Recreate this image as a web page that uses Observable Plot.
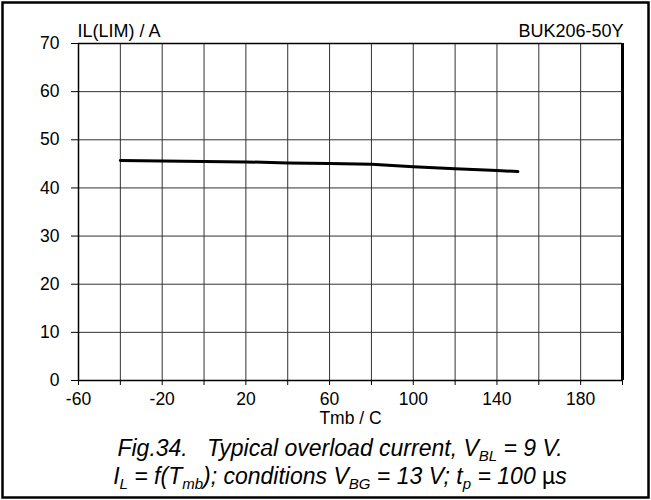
<!DOCTYPE html>
<html>
<head>
<meta charset="utf-8">
<script src="https://cdn.jsdelivr.net/npm/d3@7"></script>
<script src="https://cdn.jsdelivr.net/npm/@observablehq/plot@0.6"></script>
<style>
  html, body { margin: 0; padding: 0; background: #fff; }
  #chart { position: relative; width: 651px; height: 500px; }
  svg { font-family: "Liberation Sans", Arial, sans-serif; }
</style>
</head>
<body>
<div id="chart"></div>
<script>
// Data
const tmb = [-40, -20, 0, 20, 40, 60, 80, 100, 120, 140, 150];
const ilim = [45.7, 45.6, 45.5, 45.4, 45.2, 45.1, 44.9, 44.4, 44.0, 43.6, 43.4];
const xGrid = [-60, -40, -20, 0, 20, 40, 60, 80, 100, 120, 140, 160, 180, 200];
const xLabels = [-60, -20, 20, 60, 100, 140, 180];
const yTicks = [0, 10, 20, 30, 40, 50, 60, 70];
const yLabel = "IL(LIM) / A";
const xLabel = "Tmb / C";
const partLabel = "BUK206-50Y";

const data = tmb.map((t, i) => ({t, v: ilim[i]}));
const FS = 17.5;
const TS = 18;

const plot = Plot.plot({
  width: 651,
  height: 500,
  marginLeft: 78,
  marginRight: 29,
  marginTop: 43,
  marginBottom: 120,
  style: {fontFamily: "Liberation Sans, Arial, sans-serif", fontSize: FS + "px", color: "#000", background: "#fff"},
  x: {domain: [-60, 200]},
  y: {domain: [0, 70]},
  marks: [
    Plot.ruleX(xGrid, {stroke: "#333", strokeWidth: 1}),
    Plot.ruleY(yTicks, {stroke: "#333", strokeWidth: 1}),
    Plot.ruleY([0, 70], {stroke: "#000", strokeWidth: 1.5}),
    Plot.ruleX([-60], {stroke: "#000", strokeWidth: 1.5}),
    Plot.ruleX([200], {stroke: "#000", strokeWidth: 3}),
    Plot.axisX(xGrid, {tickSize: 5, tickFormat: () => "", stroke: "#000", label: null}),
    Plot.axisX(xLabels, {tickSize: 0, tickPadding: 12, fontSize: FS, fill: "#000", tickFormat: d => String(d), label: null}),
    Plot.axisY(yTicks, {tickSize: 7, tickPadding: 12, fontSize: FS, fill: "#000", stroke: "#000", tickFormat: d => String(d), label: null}),
    Plot.line(data, {x: "t", y: "v", stroke: "#000", strokeWidth: 3}),
    Plot.text([yLabel], {frameAnchor: "top-left", lineAnchor: "middle", dy: -12, dx: -1, text: d => d, fontSize: TS, fill: "#000", textAnchor: "start"}),
    Plot.text([partLabel], {frameAnchor: "top-right", lineAnchor: "middle", dy: -12, dx: 1, text: d => d, fontSize: TS, fill: "#000", textAnchor: "end"}),
    Plot.text([xLabel], {frameAnchor: "bottom", lineAnchor: "middle", dy: 38, text: d => d, fontSize: FS, fill: "#000"})
  ]
});

document.getElementById("chart").appendChild(plot);

const svg = d3.select(plot);
// outer border
svg.append("rect").attr("x", 2.5).attr("y", 2.5).attr("width", 646).attr("height", 495)
  .attr("fill", "none").attr("stroke", "#000").attr("stroke-width", 2.5);

function caption(y, parts) {
  const t = svg.append("text").attr("x", 340).attr("y", y).attr("text-anchor", "middle")
    .attr("font-size", 23).attr("font-style", "italic").attr("fill", "#000")
    .attr("font-family", "Liberation Sans, Arial, sans-serif");
  for (const p of parts) {
    const ts = t.append("tspan").text(p.s);
    if (p.sub) ts.attr("font-size", 15).attr("dy", 5);
    if (p.back) ts.attr("dy", -5);
    if (p.upright) ts.attr("font-style", "normal");
  }
}
caption(456, [
  {s: "Fig.34.\u00a0\u00a0\u00a0Typical overload current, V"},
  {s: "BL", sub: true},
  {s: " = 9 V.", back: true}
]);
caption(484, [
  {s: "I"}, {s: "L", sub: true},
  {s: " = f(T", back: true}, {s: "mb", sub: true},
  {s: "); conditions V", back: true}, {s: "BG", sub: true},
  {s: " = 13 V; t", back: true}, {s: "p", sub: true},
  {s: " = 100 ", back: true}, {s: "\u00b5", upright: true}, {s: "s"}
]);
</script>
</body>
</html>
